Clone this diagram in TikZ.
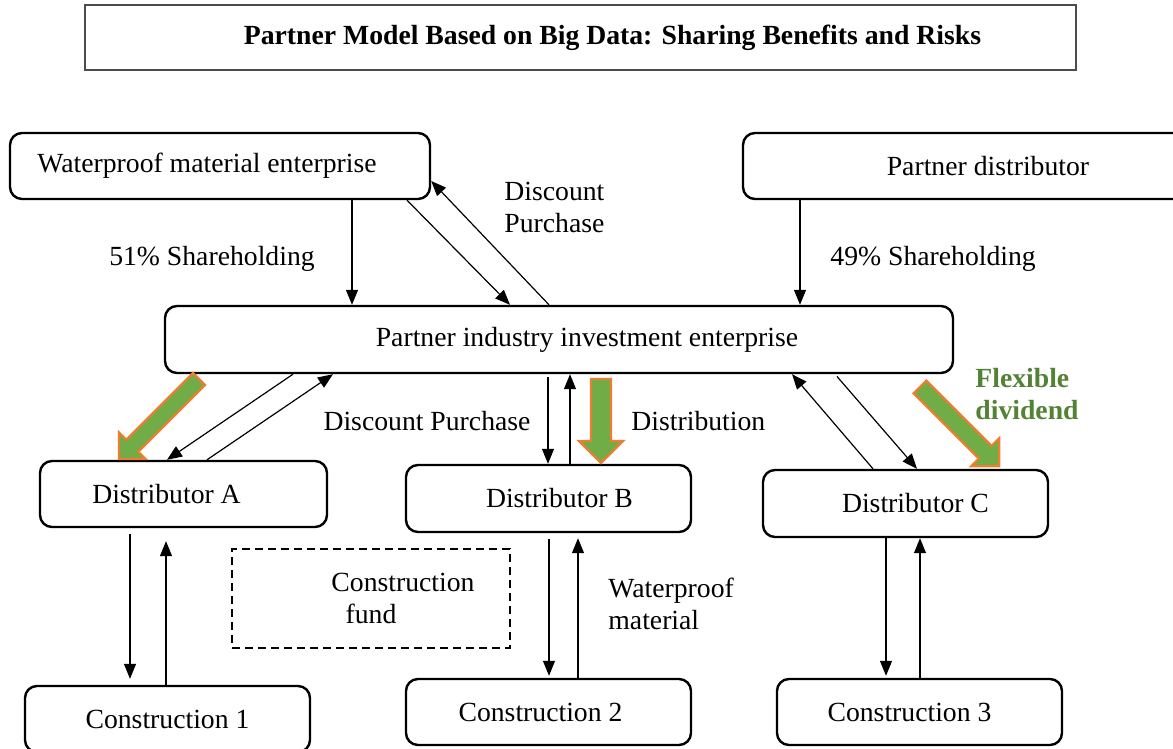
\documentclass[tikz,border=0pt]{standalone}
\usepackage{fontspec}
\setmainfont{Liberation Serif}
\usepackage{tikz}
\usetikzlibrary{calc, positioning, arrows.meta}

\definecolor{dividendfill}{RGB}{112,173,71}
\definecolor{dividendedge}{RGB}{237,125,49}
\definecolor{dividendtext}{RGB}{84,130,53}

\tikzset{
    box/.style={draw, line width=1.2pt, rounded corners=6pt, inner sep=0pt,
        minimum width=142.5pt, minimum height=33pt},
    fundbox/.style={draw, dashed, dash pattern=on 4pt off 2.5pt, line width=1pt,
        inner sep=0pt, minimum width=139pt, minimum height=49.5pt, align=center},
    nudge/.style={execute at begin node={\hspace*{#1}}},
    flow/.style={line width=0.6pt, -{Triangle[length=7.5pt, width=6pt]}},
    note/.style={inner sep=0pt, align=left},
}

% broad green arrow for the dividends: tail, angle, length, half shaft width
\newcommand{\fatarrow}[4]{%
    \filldraw[fill=dividendfill, draw=dividendedge, line width=1.1pt, line join=miter,
        shift={#1}, rotate=#2]
        (0,-#4) -- ({#3-2.2*#4},-#4) -- ({#3-2.2*#4},{-2.2*#4}) -- (#3,0)
        -- ({#3-2.2*#4},{2.2*#4}) -- ({#3-2.2*#4},#4) -- (0,#4) -- cycle;
}

\begin{document}
\begin{tikzpicture}[x=0.5pt, y=0.5pt,
        every node/.style={font=\fontsize{13.85}{16}\selectfont}]
    \useasboundingbox (0,0) rectangle (1173,-749);

    % title
    \node[draw=black!70, line width=0.6pt, inner sep=0pt, minimum width=495.5pt,
        minimum height=32.5pt, nudge=32pt, font=\fontsize{13.85}{16}\selectfont\bfseries]
        (title) at (580.5,-37.5) {Partner Model Based on Big Data: Sharing Benefits and Risks};

    % owners
    \node[box, minimum width=210pt, nudge=-13pt] (wme) at (220,-166) {Waterproof material enterprise};
    \node[box, minimum width=245pt] (pdist) at (988,-166) {Partner distributor};
    \node[box, minimum width=394pt, minimum height=33.5pt, nudge=28pt] (pie) at (559,-339.5)
        {Partner industry investment enterprise};

    % distributors
    \node[box, minimum width=143.5pt, nudge=-17pt] (distA) at (183.5,-494) {Distributor A};
    \node[box, minimum height=33.5pt, nudge=11pt] (distB) at (548.5,-498.5) {Distributor B};
    \node[box, minimum height=33.5pt, nudge=10pt] (distC) at (905.5,-503.5) {Distributor C};

    % construction sites
    \node[box] (con1) at (167.5,-719) {Construction 1};
    \node[box, nudge=-8pt] (con2) at (548.5,-712) {Construction 2};
    \node[box, nudge=-10pt] (con3) at (919.5,-712) {Construction 3};

    \node[fundbox] (fund) at (371,-598.5) {\hspace*{32pt}Construction\\fund};

    % shareholding and purchase
    \draw[flow] (wme.south -| 352,0) -- (pie.north -| 352,0);
    \draw[flow] (wme.south -| 407,0) -- (pie.north -| 510,0);
    \draw[flow] (pie.north -| 549,0) -- (wme.east |- 0,-181);
    \draw[flow] (pdist.south -| 800,0) -- (pie.north -| 800,0);

    \node[note] (shareA) at (212,-259) {51\% Shareholding};
    \node[note, anchor=west] (buyTop) at (504,-207) {Discount\\Purchase};
    \node[note, anchor=west] (shareB) at (830,-259) {49\% Shareholding};

    % enterprise and distributors
    \draw[flow] (pie.south -| 293,0) -- (distA.north -| 167,0);
    \draw[flow] (distA.north -| 207,0) -- (pie.south -| 333,0);
    \draw[flow, shorten <=1.5pt] (pie.south -| 548,0) -- (distB.north -| 548,0);
    \draw[flow] (distB.north -| 570,0) -- (pie.south -| 570,0);
    \draw[flow, shorten <=1.5pt] (pie.south -| 835,0) -- (distC.north -| 917,0);
    \draw[flow] (distC.north -| 873,0) -- (pie.south -| 792,0);

    \node[note] (buyMid) at (427,-421) {Discount Purchase};
    \node[note, anchor=west] (share) at (631,-421) {Distribution};
    \node[note, anchor=west, font=\fontsize{13.85}{16}\selectfont\bfseries, text=dividendtext]
        (flex) at (975,-394) {Flexible\\dividend};

    % dividends
    \fatarrow{(199,-379)}{225}{113}{8.5}
    \fatarrow{(601,-379)}{270}{84}{10}
    \fatarrow{(920,-387)}{-45}{112}{9}

    % distributors and construction sites
    \draw[flow, shorten <=3pt, shorten >=3pt] (distA.south -| 130,0) -- (con1.north -| 130,0);
    \draw[flow, shorten >=6.5pt] (con1.north -| 166,0) -- (distA.south -| 166,0);
    \draw[flow, shorten <=3pt, shorten >=1pt] (distB.south -| 549,0) -- (con2.north -| 549,0);
    \draw[flow, shorten >=2.5pt] (con2.north -| 578,0) -- (distB.south -| 578,0);
    \draw[flow, shorten >=1pt] (distC.south -| 886,0) -- (con3.north -| 886,0);
    \draw[flow] (con3.north -| 920,0) -- (distC.south -| 920,0);

    \node[note, anchor=west] (matter) at (608,-604) {Waterproof\\material};
\end{tikzpicture}
\end{document}
